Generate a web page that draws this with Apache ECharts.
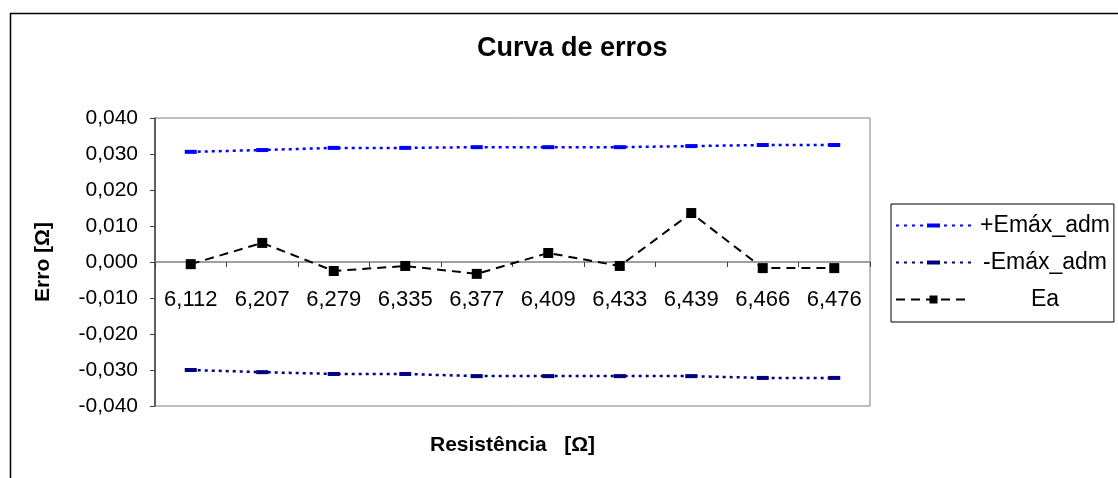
<!DOCTYPE html>
<html>
<head>
<meta charset="utf-8">
<script src="https://cdn.jsdelivr.net/npm/echarts@6/dist/echarts.min.js"></script>
<style>
  html, body { margin: 0; padding: 0; background: #fff; }
  #main { width: 1118px; height: 478px; }
</style>
</head>
<body>
<div id="main"></div>
<script>
// categories (resistance values, shown as text)
const resistencia = ['6,112', '6,207', '6,279', '6,335', '6,377', '6,409', '6,433', '6,439', '6,466', '6,476'];
// series values
const emaxPos = [0.0306, 0.0311, 0.0317, 0.0317, 0.0319, 0.0319, 0.0319, 0.0322, 0.0325, 0.0325];
const emaxNeg = [-0.0300, -0.0306, -0.0311, -0.0311, -0.0317, -0.0317, -0.0317, -0.0317, -0.0322, -0.0322];
const ea = [-0.0006, 0.0053, -0.0025, -0.0011, -0.0033, 0.0025, -0.0011, 0.0136, -0.0017, -0.0017];

const font = 'Arial, "Liberation Sans", sans-serif';
// legend icon for the dotted lines with a dash marker in the middle
const dotDash = 'path://M0,1h3v2h-3z M8,1h3v2h-3z M16,1h3v2h-3z M24,1h3v2h-3z M31,0h13v4h-13z M48,1h3v2h-3z M56,1h3v2h-3z M64,1h3v2h-3z M72,1h3v2h-3z';

var myChart = echarts.init(document.getElementById('main'));

var option = {
  animation: false,
  backgroundColor: '#fff',
  textStyle: { fontFamily: font },
  title: {
    text: 'Curva de erros',
    left: 472,
    top: 30,
    textStyle: { fontFamily: font, fontSize: 27, fontWeight: 'bold', color: '#000' }
  },
  graphic: [{
    type: 'rect',
    left: 8, top: 11,
    shape: { width: 1200, height: 600 },
    style: { fill: 'none', stroke: '#000', lineWidth: 1.5 },
    silent: true
  }],
  legend: {
    orient: 'vertical',
    left: 891,
    top: 204,
    padding: [10, 4, 11, 4],
    itemGap: 14,
    itemWidth: 75,
    itemHeight: 10,
    borderColor: '#000',
    borderWidth: 1,
    formatter: name => '{c|' + name + '}',
    textStyle: {
      fontFamily: font, fontSize: 22, color: '#000',
      rich: { c: { width: 138, align: 'center', fontFamily: font, fontSize: 23, color: '#000' } }
    },
    data: [
      { name: '+Emáx_adm', icon: dotDash },
      { name: '-Emáx_adm', icon: dotDash },
      'Ea'
    ]
  },
  grid: {
    left: 155, right: 248, top: 118, bottom: 72,
    outerBoundsMode: 'none',
    show: true,
    borderColor: '#808080',
    borderWidth: 1
  },
  xAxis: {
    type: 'category',
    data: resistencia,
    boundaryGap: true,
    // axis sits on the zero line: move the whole axis (line, ticks, labels) up
    offset: -144,
    name: 'Resistência   [Ω]',
    nameLocation: 'middle',
    nameGap: 173,
    nameTextStyle: { fontFamily: font, fontSize: 21, fontWeight: 'bold', color: '#000' },
    axisLine: { onZero: false, lineStyle: { color: '#808080', width: 1.5 } },
    axisTick: { show: true, length: 5, interval: 0, lineStyle: { color: '#404040' } },
    axisLabel: { margin: 27, fontSize: 22, color: '#000', fontFamily: font, interval: 0 },
    splitLine: { show: false }
  },
  yAxis: {
    type: 'value',
    min: -0.04,
    max: 0.04,
    interval: 0.01,
    name: 'Erro [Ω]',
    nameLocation: 'middle',
    nameGap: 101,
    nameTextStyle: { fontFamily: font, fontSize: 21, fontWeight: 'bold', color: '#000' },
    axisLine: { show: true, lineStyle: { color: '#404040', width: 1.5 } },
    axisTick: { show: true, length: 5, lineStyle: { color: '#404040' } },
    axisLabel: {
      fontSize: 21, color: '#000', fontFamily: font, margin: 17,
      formatter: v => v.toFixed(3).replace('.', ',')
    },
    splitLine: { show: false }
  },
  series: [
    {
      name: '+Emáx_adm',
      type: 'line',
      data: emaxPos,
      color: '#0000ff',
      symbol: 'rect',
      symbolSize: [12, 4],
      itemStyle: { color: '#0000ff' },
      lineStyle: { color: '#0000ff', type: [3, 4], width: 2.5 },
      z: 3
    },
    {
      name: '-Emáx_adm',
      type: 'line',
      data: emaxNeg,
      color: '#000080',
      symbol: 'rect',
      symbolSize: [12, 4],
      itemStyle: { color: '#000080' },
      lineStyle: { color: '#000080', type: [3, 4], width: 2.5 },
      z: 3
    },
    {
      name: 'Ea',
      type: 'line',
      data: ea,
      color: '#000',
      symbol: 'rect',
      symbolSize: 10,
      itemStyle: { color: '#000' },
      lineStyle: { color: '#000', type: [9, 6], width: 2 },
      z: 4
    }
  ]
};

myChart.setOption(option);
</script>
</body>
</html>
